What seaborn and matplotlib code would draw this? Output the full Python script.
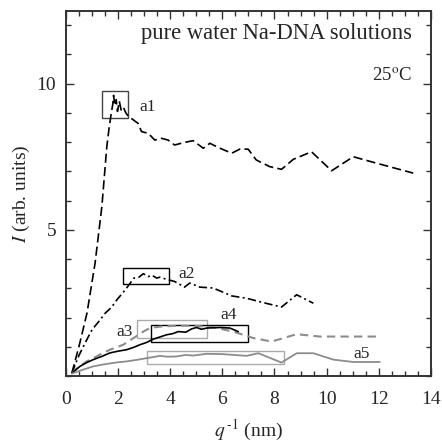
import matplotlib
matplotlib.use("Agg")
import matplotlib.pyplot as plt
import matplotlib.patches as mpatches
import seaborn as sns
import pandas as pd
from matplotlib.ticker import MultipleLocator

# ---- data ----
a1_x = [0.23, 0.5, 0.81, 1.12, 1.38, 1.57, 1.66, 1.74, 1.80, 1.83, 1.88, 1.93, 1.98, 2.05, 2.12, 2.2, 2.3, 2.39,
        2.77, 2.90, 3.16, 3.41, 3.67, 3.92, 4.17, 4.50, 4.88, 5.27, 5.52, 5.91, 6.36, 6.67, 6.99,
        7.30, 7.82, 8.27, 8.72, 9.42, 10.19, 11.02, 11.91, 13.32]
a1_y = [0.1, 1.0, 2.15, 3.86, 5.79, 7.84, 8.5, 8.98, 9.3, 9.6, 9.25, 9.45, 9.05, 9.4, 9.1, 9.2, 9.0, 8.89,
        8.64, 8.36, 8.30, 8.07, 8.13, 8.07, 7.90, 7.98, 8.05, 7.79, 7.96, 7.79, 7.62, 7.76, 7.76,
        7.39, 7.16, 7.07, 7.41, 7.67, 7.02, 7.50, 7.28, 6.94]

a2_x = [0.23, 0.5, 0.75, 1.0, 1.25, 1.51, 1.75, 1.96, 2.28, 2.47, 2.61, 2.8, 2.97, 3.16, 3.3, 3.48, 3.6, 3.86,
        4.18, 4.55, 4.75, 5.14, 5.65, 6.36, 6.93, 7.57, 8.27, 8.85, 9.49]
a2_y = [0.1, 0.7, 1.15, 1.58, 1.85, 2.15, 2.35, 2.61, 2.95, 3.18, 3.35, 3.38, 3.50, 3.40, 3.45, 3.35, 3.38, 3.31,
        3.23, 3.04, 3.18, 3.04, 3.01, 2.74, 2.66, 2.51, 2.36, 2.78, 2.49]

a3_x = [0.23, 0.5, 0.8, 1.05, 1.4, 1.69, 2.0, 2.2, 2.65, 2.97, 3.22, 3.61, 4.25, 4.88, 5.65,
        6.42, 7.18, 7.89, 8.85, 9.74, 12.04]
a3_y = [0.1, 0.32, 0.5, 0.61, 0.78, 0.9, 1.0, 1.07, 1.33, 1.52, 1.64, 1.69, 1.72, 1.72, 1.67,
        1.52, 1.30, 1.18, 1.43, 1.35, 1.35]

a4_x = [0.23, 0.54, 0.8, 1.05, 1.4, 1.69, 2.0, 2.33, 2.6, 2.84, 3.1, 3.35, 3.86, 4.1, 4.31, 4.6, 4.82,
        5.01, 5.2, 5.40, 5.91, 6.29, 6.61]
a4_y = [0.1, 0.33, 0.46, 0.56, 0.68, 0.79, 0.85, 0.9, 0.98, 1.07, 1.15, 1.26, 1.41, 1.45, 1.52, 1.50, 1.61,
        1.66, 1.60, 1.64, 1.66, 1.64, 1.52]

a5_x = [0.23, 0.6, 1.05, 1.4, 1.69, 2.0, 2.33, 2.7, 3.09, 3.3, 3.61, 3.9, 4.25, 4.6, 4.88, 5.40, 6.0,
        6.93, 7.38, 8.27, 8.85, 9.49, 10.26, 11.02, 12.04]
a5_y = [0.08, 0.2, 0.33, 0.39, 0.43, 0.47, 0.50, 0.55, 0.61, 0.64, 0.69, 0.66, 0.67, 0.72, 0.70, 0.76, 0.75,
        0.69, 0.78, 0.46, 0.78, 0.78, 0.56, 0.48, 0.48]

series_names = ["a1", "a2", "a3", "a4", "a5"]
label_pos = {"a1": (3.12, 9.19), "a2": (4.63, 3.50), "a3": (2.27, 1.52), "a4": (6.25, 2.09), "a5": (11.34, 0.76)}
# boxes: (x0, x1, y0, y1)
boxes = {"a1": (1.39, 2.38, 8.83, 9.76), "a2": (2.20, 3.94, 3.16, 3.69),
         "a3": (2.74, 5.40, 1.30, 1.92), "a4": (3.26, 6.99, 1.18, 1.73), "a5": (3.13, 8.37, 0.41, 0.84)}
x_ticks = [0, 2, 4, 6, 8, 10, 12, 14]
y_ticks = [5, 10]

# ---- style ----
sns.set_theme(style="ticks")
plt.rcParams["font.family"] = ["Liberation Serif", "DejaVu Serif"]
plt.rcParams["mathtext.fontset"] = "stix"

fig = plt.figure(figsize=(4.42, 4.45), dpi=100)
ax = fig.add_axes([0.149, 0.155, 0.826, 0.820])

all_x = a1_x + a2_x + a3_x + a4_x + a5_x
all_y = a1_y + a2_y + a3_y + a4_y + a5_y
all_s = (["a1"] * len(a1_x) + ["a2"] * len(a2_x) + ["a3"] * len(a3_x)
         + ["a4"] * len(a4_x) + ["a5"] * len(a5_x))
df = pd.DataFrame({"x": all_x, "y": all_y, "s": all_s})

styles = {
    "a1": dict(color="black", lw=1.2, dashes=(5.5, 2.5)),
    "a2": dict(color="black", lw=1.2, dashes=(5, 2, 1.2, 2)),
    "a3": dict(color="#8c8c8c", lw=1.5, dashes=(4, 2.5)),
    "a4": dict(color="black", lw=1.2, dashes=None),
    "a5": dict(color="#8c8c8c", lw=1.3, dashes=None),
}
for s in series_names:
    st = styles[s]
    sub = df[df.s == s]
    sns.lineplot(data=sub, x="x", y="y", ax=ax, color=st["color"], lw=st["lw"],
                 sort=False, estimator=None, legend=False)
    line = ax.lines[-1]
    if st["dashes"] is not None:
        line.set_dashes(st["dashes"])

box_colors = {"a1": "#444444", "a2": "black", "a3": "#aaaaaa", "a4": "black", "a5": "#aaaaaa"}
for s in series_names:
    x0, x1, y0, y1 = boxes[s]
    ax.add_patch(mpatches.Rectangle((x0, y0), x1 - x0, y1 - y0, fill=False,
                                    edgecolor=box_colors[s], lw=1.0))
    ax.text(*label_pos[s], s, fontsize=12.5, ha="center", va="center")

ax.text(13.26, 11.73, "pure water Na-DNA solutions", fontsize=16.3, ha="right", va="center")
ax.text(13.26, 10.24, r"25$^{\rm o}$C", fontsize=13.5, ha="right", va="center")

ax.set_xlim(0, 14)
ax.set_ylim(0, 12.48)
ax.set_xticks(x_ticks)
ax.set_yticks(y_ticks)
ax.xaxis.set_minor_locator(MultipleLocator(0.5))
ax.yaxis.set_minor_locator(MultipleLocator(1))
ax.tick_params(which="both", direction="in", top=True, right=True, labelsize=14, color="#333333")
ax.tick_params(axis="x", which="major", length=6, width=1.0, pad=11)
ax.tick_params(axis="y", which="major", length=6, width=1.0, pad=7)
ax.tick_params(which="minor", length=3.5, width=1.0)
for sp in ax.spines.values():
    sp.set_linewidth(1.4)
    sp.set_color("#333333")

ax.set_xlabel(r"$q^{\,\text{-1}}$ (nm)", fontsize=14, labelpad=7)
ax.set_ylabel(r"$I$ (arb. units)", fontsize=14, labelpad=3)

fig.savefig("out.png", dpi=100)
